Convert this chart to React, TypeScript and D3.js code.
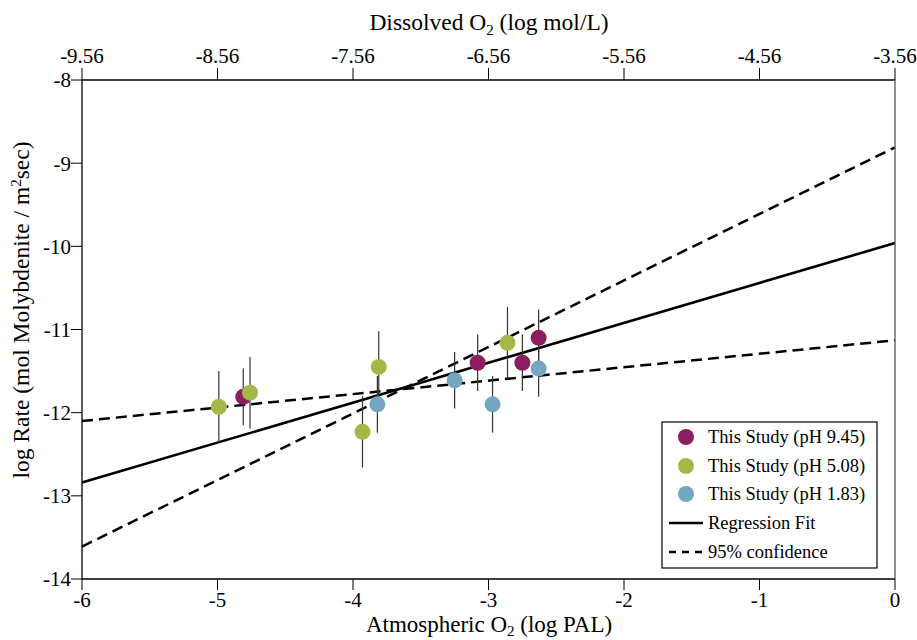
import React from "react";
import * as d3 from "d3";

const xTicks = [-6, -5, -4, -3, -2, -1, 0];
const topTickLabels = ["-9.56", "-8.56", "-7.56", "-6.56", "-5.56", "-4.56", "-3.56"];
const yTicks = [-8, -9, -10, -11, -12, -13, -14];

const seriesNames = ["This Study (pH 9.45)", "This Study (pH 5.08)", "This Study (pH 1.83)"];
const seriesColors = ["#8C1D5E", "#A4B84A", "#74A6C2"];

const ph945X = [-4.81, -3.08, -2.75, -2.63];
const ph945Y = [-11.81, -11.40, -11.40, -11.10];
const ph945Err = [0.34, 0.34, 0.34, 0.34];

const ph508X = [-4.99, -4.76, -3.81, -3.93, -2.86];
const ph508Y = [-11.93, -11.76, -11.45, -12.23, -11.16];
const ph508Err = [0.43, 0.43, 0.43, 0.43, 0.43];

const ph183X = [-3.82, -3.25, -2.97, -2.63];
const ph183Y = [-11.90, -11.61, -11.90, -11.47];
const ph183Err = [0.34, 0.34, 0.34, 0.34];

const fitX = [-6, 0];
const fitY = [-12.84, -9.96];
const upperY = [-13.61, -8.81];
const lowerY = [-12.10, -11.13];

export default function App() {
  const W = 917, H = 640;
  const left = 82, right = 895, top = 80, bottom = 579;
  const x = d3.scaleLinear().domain([-6, 0]).range([left, right]);
  const y = d3.scaleLinear().domain([-14, -8]).range([bottom, top]);
  const font = "'Liberation Serif', 'Times New Roman', Times, serif";

  const series = [
    { xs: ph945X, ys: ph945Y, es: ph945Err, c: seriesColors[0] },
    { xs: ph508X, ys: ph508Y, es: ph508Err, c: seriesColors[1] },
    { xs: ph183X, ys: ph183Y, es: ph183Err, c: seriesColors[2] },
  ];

  const line = d3.line<number>().x((_, i) => x(fitX[i])).y((d) => y(d));

  const lgX = 662, lgY = 422, lgW = 215, lgH = 146;
  const rowY = [437, 466, 494, 523, 552];

  return (
    <svg width={W} height={H} style={{ position: "absolute", left: 0, top: 0, background: "#fff", fontFamily: font }}>
      <rect x={0} y={0} width={W} height={H} fill="#fff" />
      {/* fit lines */}
      <path d={line(fitY)!} stroke="#000" strokeWidth={2.6} fill="none" />
      <path d={line(upperY)!} stroke="#000" strokeWidth={2.5} strokeDasharray="11,6" fill="none" />
      <path d={line(lowerY)!} stroke="#000" strokeWidth={2.5} strokeDasharray="11,6" fill="none" />
      {/* error bars */}
      {series.map((s, si) =>
        s.xs.map((xv, i) => (
          <line key={`e${si}-${i}`} x1={x(xv)} x2={x(xv)} y1={y(s.ys[i] - s.es[i])} y2={y(s.ys[i] + s.es[i])} stroke="#333" strokeWidth={1.2} />
        ))
      )}
      {series.map((s, si) =>
        s.xs.map((xv, i) => (
          <circle key={`p${si}-${i}`} cx={x(xv)} cy={y(s.ys[i])} r={8} fill={s.c} />
        ))
      )}
      {/* frame */}
      <line x1={left} x2={right} y1={top} y2={top} stroke="#000" strokeWidth={1.3} />
      <line x1={left} x2={right} y1={bottom} y2={bottom} stroke="#000" strokeWidth={1.3} />
      <line x1={left} x2={left} y1={top} y2={bottom} stroke="#000" strokeWidth={1.3} />
      <line x1={right} x2={right} y1={top} y2={bottom} stroke="#555" strokeWidth={1.3} />
      {/* bottom axis */}
      {xTicks.map((t) => (
        <g key={`b${t}`}>
          <line x1={x(t)} x2={x(t)} y1={bottom} y2={bottom + 11} stroke="#000" strokeWidth={1} />
          <text x={x(t)} y={bottom + 28} textAnchor="middle" fontSize={21}>{String(t)}</text>
        </g>
      ))}
      {/* top axis */}
      {xTicks.map((t, i) => (
        <g key={`t${t}`}>
          <line x1={x(t)} x2={x(t)} y1={top} y2={top - 12} stroke="#000" strokeWidth={1} />
          <text x={x(t)} y={top - 17} textAnchor="middle" fontSize={21}>{topTickLabels[i]}</text>
        </g>
      ))}
      {/* left axis */}
      {yTicks.map((t) => (
        <g key={`l${t}`}>
          <line x1={left} x2={left - 11} y1={y(t)} y2={y(t)} stroke="#000" strokeWidth={1} />
          <text x={left - 11} y={y(t)} dy="0.35em" textAnchor="end" fontSize={21}>{String(t)}</text>
        </g>
      ))}
      {/* titles */}
      <text x={489} y={30} textAnchor="middle" fontSize={23.5}>
        Dissolved O<tspan fontSize={15} dy={5}>2</tspan><tspan dy={-5}> (log mol/L)</tspan>
      </text>
      <text x={489} y={632} textAnchor="middle" fontSize={23}>
        Atmospheric O<tspan fontSize={15} dy={4}>2</tspan><tspan dy={-4}> (log PAL)</tspan>
      </text>
      <text transform={`translate(29,310) rotate(-90)`} textAnchor="middle" fontSize={23.5}>
        log Rate (mol Molybdenite / m<tspan fontSize={15} dy={-8}>2</tspan><tspan dy={8}>sec)</tspan>
      </text>
      {/* legend */}
      <rect x={lgX} y={lgY} width={lgW} height={lgH} fill="#fff" stroke="#000" strokeWidth={1.2} />
      {seriesNames.map((n, i) => (
        <g key={n}>
          <circle cx={686} cy={rowY[i]} r={8} fill={seriesColors[i]} />
          <text x={708} y={rowY[i]} dy="0.35em" fontSize={18.5}>{n}</text>
        </g>
      ))}
      <line x1={669} x2={703} y1={rowY[3]} y2={rowY[3]} stroke="#000" strokeWidth={2.6} />
      <text x={708} y={rowY[3]} dy="0.35em" fontSize={18.5}>Regression Fit</text>
      <line x1={669} x2={703} y1={rowY[4]} y2={rowY[4]} stroke="#000" strokeWidth={2.5} strokeDasharray="7,6" />
      <text x={708} y={rowY[4]} dy="0.35em" fontSize={18.5}>95% confidence</text>
    </svg>
  );
}
